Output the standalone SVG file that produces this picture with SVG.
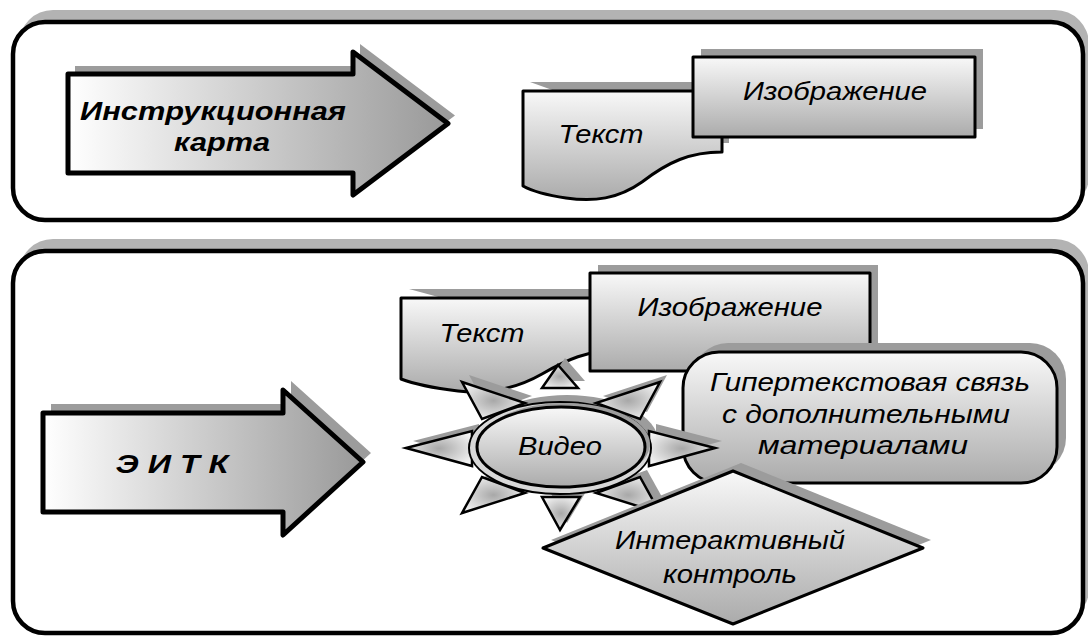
<svg xmlns="http://www.w3.org/2000/svg" width="1088" height="636" viewBox="0 0 1088 636">
<defs>
<linearGradient id="gV" x1="0" y1="0" x2="0" y2="1"><stop offset="0" stop-color="#f8f8f8"/><stop offset="1" stop-color="#ababab"/></linearGradient>
<linearGradient id="gH" x1="0" y1="0" x2="1" y2="0"><stop offset="0" stop-color="#ffffff"/><stop offset="1" stop-color="#999999"/></linearGradient>
<radialGradient id="gR" cx="0.5" cy="0.5" r="0.6"><stop offset="0" stop-color="#a8a8a8"/><stop offset="1" stop-color="#f4f4f4"/></radialGradient>
<style>
.panel{fill:#fff;stroke:#000;stroke-width:4.5}
.pshadow{fill:#b3b3b3}
.shadow{fill:#9c9c9c}
.arrow{fill:url(#gH);stroke:#000;stroke-width:5;stroke-linejoin:round}
.shape{fill:url(#gV);stroke:#000;stroke-width:3;stroke-linejoin:round}
.ray{fill:url(#gR);stroke:#000;stroke-width:2.5;stroke-linejoin:miter}
.t{font-family:"Liberation Sans",Arial,sans-serif;font-style:italic;font-size:26px;fill:#000;text-anchor:middle}
.b{font-weight:bold;font-size:25px}
</style>
</defs>

<g id="panel-top">
<rect class="pshadow" x="19" y="10" width="1070" height="200" rx="34"/>
<rect class="panel" x="13" y="22" width="1070" height="198" rx="32"/>
</g>
<g id="panel-bottom">
<rect class="pshadow" x="19" y="239" width="1070" height="384" rx="34"/>
<rect class="panel" x="13" y="251" width="1070" height="382" rx="32"/>
</g>

<g id="connectors"></g>

<g id="arrow-instr">
<path class="shadow" d="M75,66 H360 V44 L455,115.5 L360,187 V165 H75 Z"/>
<path class="arrow" d="M68,74 H353 V52 L448,123.5 L353,195 V173 H68 Z"/>
<text class="t b" x="213" y="120" textLength="266" lengthAdjust="spacingAndGlyphs">Инструкционная</text>
<text class="t b" x="222" y="151" textLength="96" lengthAdjust="spacingAndGlyphs">карта</text>
</g>

<g id="doc-top">
<path class="shadow" d="M530,82 H729 V143 L700,143 Z"/>
<path class="shape" d="M523,91 L722,91 L722,152 C690,152 668,162 642,182 C618,199 594,202 566,198 C546,195 532,191 523,186 Z"/>
<text class="t" x="601" y="143" font-size="27" textLength="85" lengthAdjust="spacingAndGlyphs">Текст</text>
</g>

<g id="img-top">
<rect class="shadow" x="701" y="49" width="282" height="80"/>
<rect class="shape" x="693" y="57" width="282" height="80"/>
<text class="t" x="835" y="100" textLength="184" lengthAdjust="spacingAndGlyphs">Изображение</text>
</g>

<g id="arrow-eitk">
<path class="shadow" d="M51,404 H291 V381 L371,453 L291,526 V503 H51 Z"/>
<path class="arrow" d="M43,413 H283 V390 L363,462 L283,535 V512 H43 Z"/>
<text class="t b" x="172" y="473" font-size="27" textLength="113" lengthAdjust="spacingAndGlyphs">Э И Т К</text>
</g>

<g id="doc-bottom">
<path class="shadow" d="M409,289 H627 V341 L600,341 Z"/>
<path class="shape" d="M401,298 L619,298 L619,350 C588,350 566,360 542,374 C514,390 486,394 458,391 C434,388 414,384 401,379 Z"/>
<text class="t" x="482" y="342" textLength="85" lengthAdjust="spacingAndGlyphs">Текст</text>
</g>

<g id="img-bottom">
<rect class="shadow" x="598" y="265" width="280" height="98"/>
<rect class="shape" x="590" y="273" width="280" height="98"/>
<text class="t" x="730" y="316" textLength="185" lengthAdjust="spacingAndGlyphs">Изображение</text>
</g>

<g id="hyperlink">
<rect class="shadow" x="692" y="343" width="374" height="131" rx="36"/>
<rect class="shape" x="683" y="352" width="374" height="131" rx="36"/>
<text class="t" x="870" y="391" textLength="320" lengthAdjust="spacingAndGlyphs">Гипертекстовая связь</text>
<text class="t" x="866" y="423" textLength="288" lengthAdjust="spacingAndGlyphs">с дополнительными</text>
<text class="t" x="863" y="454" textLength="210" lengthAdjust="spacingAndGlyphs">материалами</text>
</g>

<g id="video">
<g transform="translate(7,-7)" class="shadow">
<polygon points="558,365 542,388 578,388"/>
<polygon points="560,530 542,497 580,497"/>
<polygon points="406,448 472,431 472,466"/>
<polygon points="715,448 649,431 649,466"/>
<polygon points="462,382 525,403 482,419"/>
<polygon points="660,382 596,403 640,419"/>
<polygon points="462,513 482,477 525,493"/>
<polygon points="660,513 640,477 596,493"/>
<ellipse cx="560" cy="448" rx="91" ry="46"/>
</g>
<polygon class="ray" points="558,365 542,388 578,388"/>
<polygon class="ray" points="560,530 542,497 580,497"/>
<polygon class="ray" points="406,448 472,431 472,466"/>
<polygon class="ray" points="715,448 649,431 649,466"/>
<polygon class="ray" points="462,382 525,403 482,419"/>
<polygon class="ray" points="660,382 596,403 640,419"/>
<polygon class="ray" points="462,513 482,477 525,493"/>
<polygon class="ray" points="660,513 640,477 596,493"/>
<ellipse cx="560" cy="448" rx="91" ry="46" fill="#d8d8d8" stroke="#000" stroke-width="2"/>
<ellipse cx="565" cy="444" rx="85" ry="41" fill="#9c9c9c"/>
<ellipse class="shape" cx="561" cy="447" rx="84" ry="40"/>
<text class="t" x="560" y="455" textLength="84" lengthAdjust="spacingAndGlyphs">Видео</text>
</g>

<g id="interactive">
<polygon class="shadow" points="551,540 741,463 931,540 741,616"/>
<polygon class="shape" points="543,548 733,471 923,548 733,624" stroke-width="2.5"/>
<text class="t" x="730" y="549" textLength="230" lengthAdjust="spacingAndGlyphs">Интерактивный</text>
<text class="t" x="730" y="583" textLength="134" lengthAdjust="spacingAndGlyphs">контроль</text>
</g>
</svg>
